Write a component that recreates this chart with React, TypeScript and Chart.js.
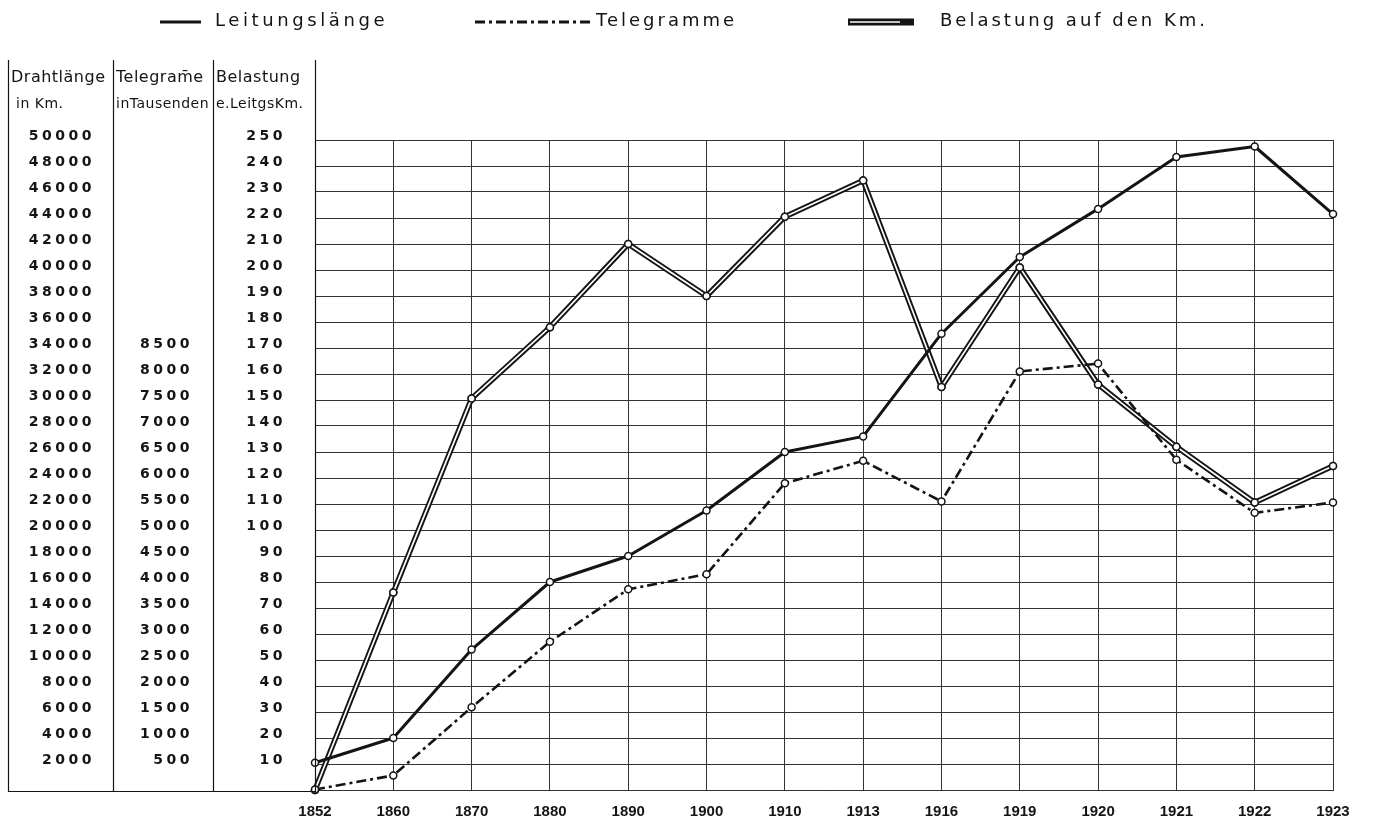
import React, { useEffect, useRef } from 'react';
import { Chart, registerables } from 'chart.js';

Chart.register(...registerables);

// ---- data ----
const years = ['1852', '1860', '1870', '1880', '1890', '1900', '1910', '1913', '1916', '1919', '1920', '1921', '1922', '1923'];
// Leitungslänge / Drahtlänge in km
const leitungslaenge = [2100, 4000, 10800, 16000, 18000, 21500, 26000, 27200, 35100, 41000, 44700, 48700, 49500, 44300];
// Telegramme in Tausenden
const telegramme = [10, 280, 1590, 2850, 3860, 4150, 5900, 6330, 5550, 8050, 8200, 6350, 5330, 5530];
// Belastung auf den Leitungs-Km
const belastung = [0, 76, 150.6, 178, 210, 190, 220.5, 234.4, 155, 201, 156, 132, 110.6, 124.6];

// ---- axis tick definitions ----
const drahtAxis = { min: 0, max: 50000, step: 2000 };
const teleAxis = { min: 0, max: 12500, step: 500, lastLabel: 8500 };
const belastAxis = { min: 0, max: 250, step: 10 };

const legendLabels = ['Leitungslänge', 'Telegramme', 'Belastung auf den Km.'];
const columnHeaders = [
  ['Drahtlänge', 'in Km.'],
  ['Telegram\u0304e', 'inTausenden'],
  ['Belastung', 'e.LeitgsKm.'],
];

const INK = '#141414';
const GRID = '#333333';
const TELE_DASH = [10, 4, 3, 4];

const yTickFont = { family: '"DejaVu Sans", sans-serif', size: 14, weight: 'bold' as const };

const fixWidth = (w: number) => (s: any) => {
  s.width = w;
  s.paddingTop = 0;
  s.paddingBottom = 0;
};

const framePlugin = {
  id: 'frame',
  afterLayout(chart: any) {
    ['yD', 'yT', 'yB'].forEach((id) => {
      const s: any = chart.scales[id];
      if (s && !s.__ls) {
        const orig = s.drawLabels.bind(s);
        s.drawLabels = (area: any) => {
          const c = s.ctx;
          c.save();
          c.letterSpacing = '3.5px';
          orig(area);
          c.restore();
        };
        s.__ls = true;
      }
    });
  },
  afterDatasetDraw(chart: any, args: any) {
    // white core of the double line (Belastung)
    if (args.index !== 2) return;
    const ctx = chart.ctx;
    const meta = args.meta;
    ctx.save();
    ctx.beginPath();
    meta.dataset.path(ctx);
    ctx.strokeStyle = '#ffffff';
    ctx.lineWidth = 1.7;
    ctx.lineJoin = 'round';
    ctx.stroke();
    meta.data.forEach((p: any) => p.draw(ctx, chart.chartArea));
    ctx.restore();
  },
  afterDraw(chart: any) {
    const ctx = chart.ctx;
    const { yD, yT, yB } = chart.scales;
    const bottom = chart.chartArea.bottom;
    const frameTop = 60;
    ctx.save();
    // column frame lines
    ctx.strokeStyle = INK;
    ctx.lineWidth = 1.2;
    ctx.beginPath();
    [yD.left, yD.right, yT.right, yB.right].forEach((px: number) => {
      ctx.moveTo(Math.round(px) + 0.5, frameTop);
      ctx.lineTo(Math.round(px) + 0.5, bottom + 2);
    });
    ctx.moveTo(yD.left, bottom + 1.5);
    ctx.lineTo(yB.right, bottom + 1.5);
    ctx.stroke();

    // column headers
    ctx.fillStyle = INK;
    ctx.textAlign = 'left';
    ctx.textBaseline = 'middle';
    ctx.letterSpacing = '0.5px';
    const cols = [[yD.left, yD.right], [yT.left, yT.right], [yB.left, yB.right]];
    cols.forEach(([l, r]: number[], i: number) => {
      ctx.font = '16px "DejaVu Sans", sans-serif';
      ctx.fillText(columnHeaders[i][0], l + 3, 78, r - l - 5);
      ctx.font = '14px "DejaVu Sans", sans-serif';
      ctx.fillText(columnHeaders[i][1], l + (i === 0 ? 8 : 3), 104, r - l - 5);
    });

    // legend
    const ds = chart.data.datasets;
    const items = [
      { x0: 160, x1: 201, tx: 215, ds: ds[0] },
      { x0: 475, x1: 590, tx: 596, ds: ds[1] },
      { x0: 848, x1: 914, tx: 940, ds: ds[2] },
    ];
    const ly = 22;
    items.forEach((it, i) => {
      ctx.save();
      ctx.strokeStyle = INK;
      ctx.lineCap = 'butt';
      ctx.beginPath();
      ctx.moveTo(it.x0, ly);
      ctx.lineTo(it.x1, ly);
      if (i === 0) {
        ctx.lineWidth = 3;
      } else if (i === 1) {
        ctx.lineWidth = 3;
        ctx.setLineDash(TELE_DASH);
      } else {
        ctx.lineWidth = 7;
      }
      ctx.stroke();
      if (i === 2) {
        ctx.beginPath();
        ctx.moveTo(it.x0 + 2, ly);
        ctx.lineTo(it.x1 - 14, ly);
        ctx.strokeStyle = '#fff';
        ctx.lineWidth = 1.3;
        ctx.stroke();
      }
      ctx.restore();
      ctx.fillStyle = INK;
      ctx.font = '18px "DejaVu Sans", sans-serif';
      ctx.letterSpacing = i === 0 ? '3.6px' : '3px';
      ctx.textAlign = 'left';
      ctx.textBaseline = 'middle';
      ctx.fillText(it.ds.label, it.tx, ly - 1);
    });
    ctx.restore();
  },
};

export default function App() {
  const ref = useRef<HTMLCanvasElement>(null);

  useEffect(() => {
    const pointStyle = {
      pointRadius: 3.5,
      pointHoverRadius: 3.5,
      pointBorderWidth: 1.5,
      pointBackgroundColor: '#ffffff',
      pointBorderColor: INK,
    };
    const chart = new Chart(ref.current as HTMLCanvasElement, {
      type: 'line',
      data: {
        labels: years,
        datasets: [
          {
            label: legendLabels[0],
            data: leitungslaenge,
            yAxisID: 'yD',
            borderColor: INK,
            borderWidth: 3,
            borderJoinStyle: 'round',
            tension: 0,
            clip: false,
            ...pointStyle,
          },
          {
            label: legendLabels[1],
            data: telegramme,
            yAxisID: 'yT',
            borderColor: INK,
            borderWidth: 2.6,
            borderDash: TELE_DASH,
            tension: 0,
            clip: false,
            ...pointStyle,
          },
          {
            label: legendLabels[2],
            data: belastung,
            yAxisID: 'yB',
            borderColor: INK,
            borderWidth: 5.5,
            borderJoinStyle: 'round',
            tension: 0,
            clip: false,
            ...pointStyle,
          },
        ],
      } as any,
      options: {
        responsive: true,
        maintainAspectRatio: false,
        animation: false,
        events: [],
        layout: { padding: { left: 8, right: 42, top: 140, bottom: 0 } },
        plugins: {
          legend: { display: false },
          tooltip: { enabled: false },
          title: { display: false },
        },
        scales: {
          x: {
            type: 'category',
            offset: false,
            grid: { color: GRID, lineWidth: 1, drawTicks: false },
            border: { display: true, color: GRID },
            ticks: {
              padding: 13,
              color: INK,
              maxRotation: 0,
              autoSkip: false,
              font: { family: '"Liberation Sans", sans-serif', size: 15, weight: 'bold' },
            },
            afterFit: (s: any) => { s.height = 33; },
          },
          yB: {
            type: 'linear',
            position: 'left',
            weight: 0,
            min: belastAxis.min,
            max: belastAxis.max,
            grid: { color: GRID, lineWidth: 1, drawTicks: false },
            border: { display: false },
            ticks: {
              stepSize: belastAxis.step,
              autoSkip: false,
              padding: 29,
              labelOffset: -4,
              color: INK,
              font: yTickFont,
              callback: (v: any) => (v === 0 ? '' : String(v)),
            },
            afterFit: fixWidth(102),
          },
          yT: {
            type: 'linear',
            position: 'left',
            weight: 1,
            min: teleAxis.min,
            max: teleAxis.max,
            grid: { display: false, drawTicks: false },
            border: { display: false },
            ticks: {
              stepSize: teleAxis.step,
              autoSkip: false,
              padding: 20,
              labelOffset: -4,
              color: INK,
              font: yTickFont,
              callback: (v: any) => (v === 0 || v > teleAxis.lastLabel ? '' : String(v)),
            },
            afterFit: fixWidth(100),
          },
          yD: {
            type: 'linear',
            position: 'left',
            weight: 2,
            min: drahtAxis.min,
            max: drahtAxis.max,
            grid: { display: false, drawTicks: false },
            border: { display: false },
            ticks: {
              stepSize: drahtAxis.step,
              autoSkip: false,
              padding: 18,
              labelOffset: -4,
              color: INK,
              font: yTickFont,
              callback: (v: any) => (v === 0 ? '' : String(v)),
            },
            afterFit: fixWidth(105),
          },
        },
      } as any,
      plugins: [framePlugin],
    });
    return () => chart.destroy();
  }, []);

  return (
    <div style={{ position: 'absolute', left: 0, top: 0, width: 1375, height: 823, background: '#ffffff' }}>
      <canvas ref={ref} />
    </div>
  );
}
